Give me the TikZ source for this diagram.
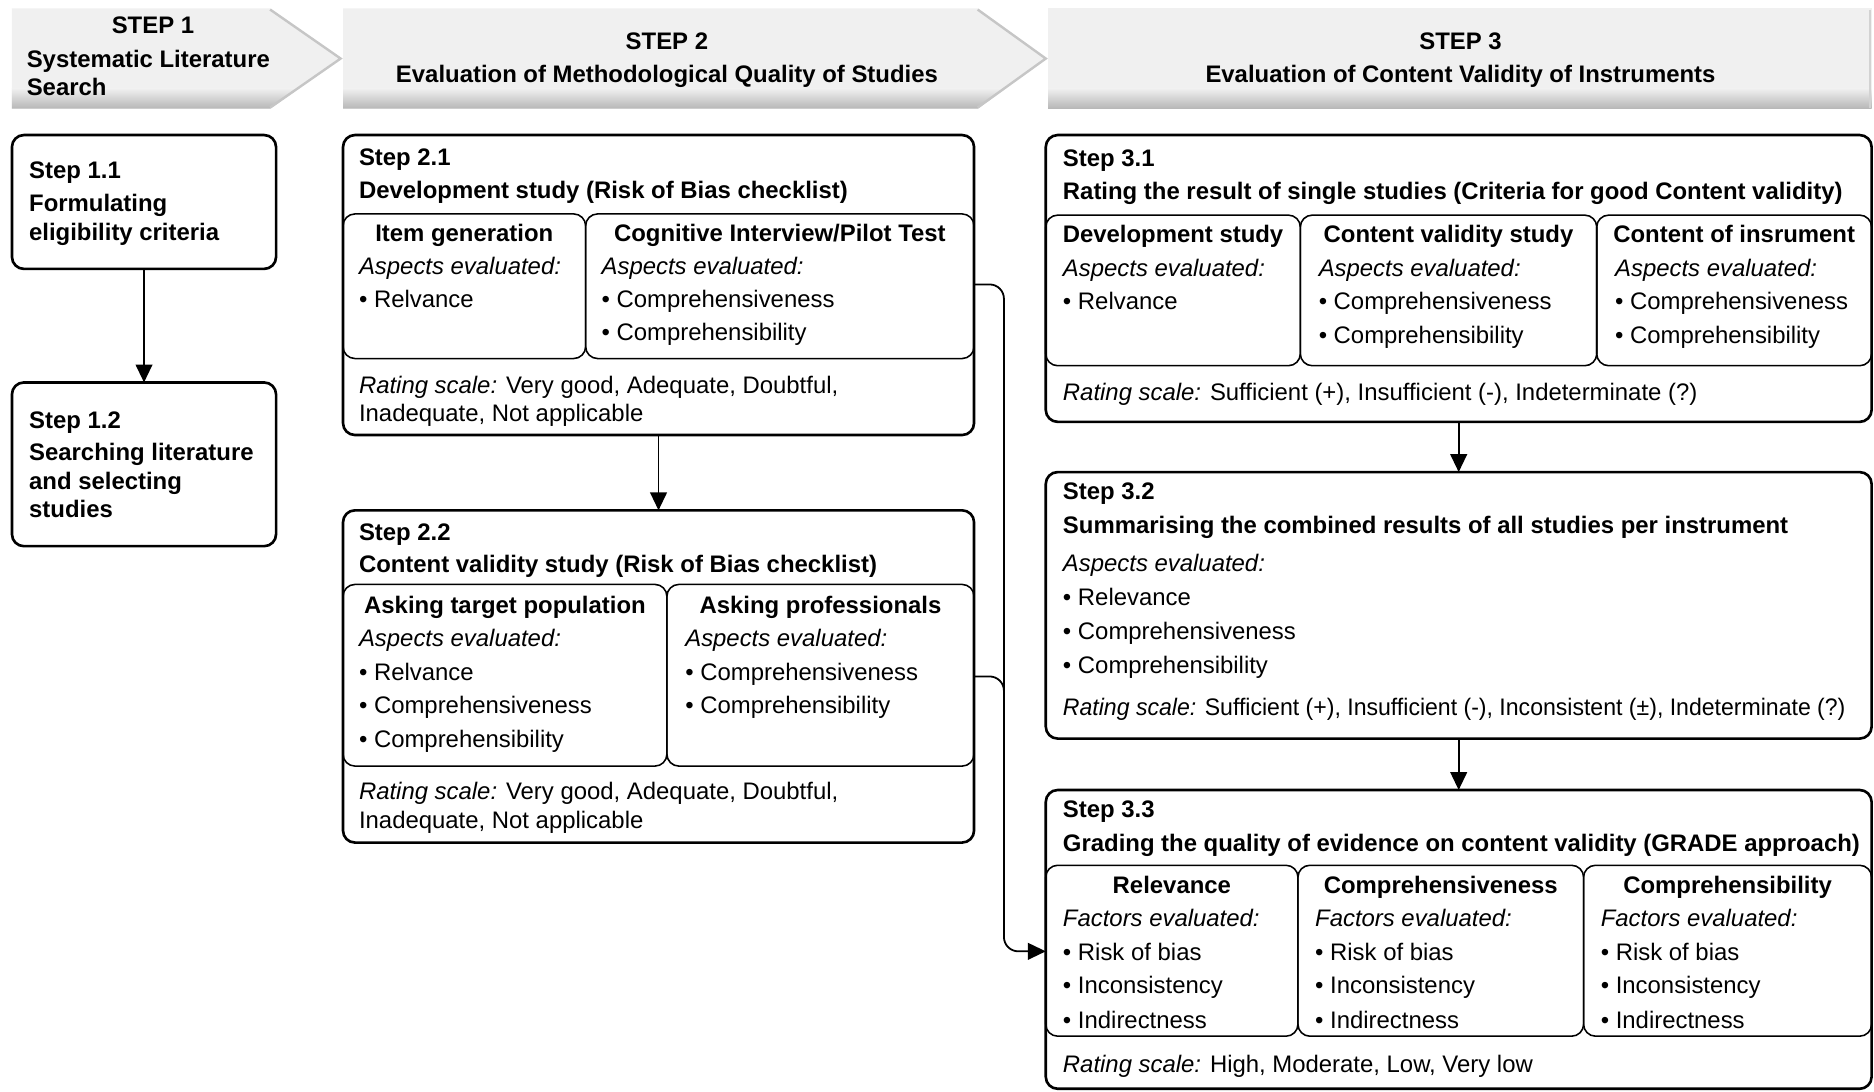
\documentclass[tikz,border=0pt]{standalone}
\usepackage{fontspec}
\setmainfont{Liberation Sans}
\usetikzlibrary{arrows.meta}
\newcommand\fs{\fontsize{10pt}{12pt}\selectfont}
\newcommand\rs{{\itshape Rating scale:}}
\newcommand\mkbox[6]{\node[#6, minimum width={(#4-#2)*0.5}, minimum height={(#5-#3)*0.5}] (#1) at (#2,#3) {};}
\begin{document}
\begin{tikzpicture}[x=0.5pt,y=-0.5pt,
  outer/.style={draw, line width=1.1pt, rounded corners=5pt, anchor=north west, inner sep=0pt, outer sep=0pt},
  inner/.style={draw, line width=0.65pt, rounded corners=5pt, anchor=north west, inner sep=0pt, outer sep=0pt},
  txt/.style={anchor=mid west, inner sep=0pt, yshift=-1pt, font=\fs},
  btxt/.style={txt, font=\fs\bfseries},
  itxt/.style={txt, font=\fs\itshape},
  ctxt/.style={anchor=mid, inner sep=0pt, yshift=-1pt, font=\fs\bfseries},
  conn/.style={line width=0.75pt},
  arr/.style={conn, -{Triangle[length=7.5pt,width=7pt]}},
  hdr/.style={fill=gray!12}
]
\fill[white] (0,0) rectangle (1568,913);
\useasboundingbox (0,0) rectangle (1568,913);

% ---------- headers ----------
\def\hA{(10,7) -- (226,7) -- (286,49) -- (226,91) -- (10,91) -- cycle}
\def\hB{(287,7) -- (818,7) -- (876,49) -- (818,91) -- (287,91) -- cycle}
\def\hC{(877,7) -- (1566,7) -- (1566,91) -- (877,91) -- cycle}
\foreach \p in {\hA,\hB,\hC}{
  \fill[hdr] \p;
  \begin{scope}
    \clip \p;
    \shade[top color=gray!12, bottom color=gray!60] (0,74) rectangle (1568,92);
  \end{scope}
}
\draw[gray!45, line width=1pt] (226,8) -- (285,49) -- (226,90);
\draw[gray!45, line width=1pt] (818,8) -- (875,49) -- (818,90);
\draw[gray!35, line width=0.8pt] (1565,8) -- (1565,90);

\node[ctxt] (h1a) at (128,21) {STEP 1};
\node[btxt] (h1b) at (22,49) {Systematic Literature};
\node[btxt] (h1c) at (22,73) {Search};
\node[ctxt] (h2a) at (558,34) {STEP 2};
\node[ctxt] (h2b) at (558,62) {Evaluation of Methodological Quality of Studies};
\node[ctxt] (h3a) at (1222,34) {STEP 3};
\node[ctxt] (h3b) at (1222,62) {Evaluation of Content Validity of Instruments};

% ---------- step 1 ----------
\mkbox{s11}{10}{113}{231}{225}{outer}
\node[btxt] (t11a) at (24,142) {Step 1.1};
\node[btxt] (t11b) at (24,170) {Formulating};
\node[btxt] (t11c) at (24,194) {eligibility criteria};
\mkbox{s12}{10}{320}{231}{457}{outer}
\node[btxt] (t12a) at (24,351) {Step 1.2};
\node[btxt] (t12b) at (24,378) {Searching literature};
\node[btxt] (t12c) at (24,402) {and selecting};
\node[btxt] (t12d) at (24,426) {studies};

% ---------- step 2.1 ----------
\mkbox{s21}{287}{113}{815}{364}{outer}
\mkbox{s21a}{287}{179}{490}{300}{inner}
\mkbox{s21b}{490}{179}{815}{300}{inner}
\node[btxt] (t21a) at (300,131) {Step 2.1};
\node[btxt] (t21b) at (300,159) {Development study (Risk of Bias checklist)};
\node[ctxt] (t21c) at (388.5,195) {Item generation};
\node[ctxt] (t21d) at (652.5,195) {Cognitive Interview/Pilot Test};
\node[itxt] (t21e) at (300,222) {Aspects evaluated:};
\node[txt]  (t21f) at (300,250) {• Relvance};
\node[itxt] (t21g) at (503,222) {Aspects evaluated:};
\node[txt]  (t21h) at (503,250) {• Comprehensiveness};
\node[txt]  (t21i) at (503,278) {• Comprehensibility};
\node[txt]  (t21j) at (300,322) {\rs{} Very good, Adequate, Doubtful,};
\node[txt]  (t21k) at (300,345) {Inadequate, Not applicable};

% ---------- step 2.2 ----------
\mkbox{s22}{287}{427}{815}{705}{outer}
\mkbox{s22a}{287}{489}{558}{641}{inner}
\mkbox{s22b}{558}{489}{815}{641}{inner}
\node[btxt] (t22a) at (300,445) {Step 2.2};
\node[btxt] (t22b) at (300,472) {Content validity study (Risk of Bias checklist)};
\node[ctxt] (t22c) at (422.5,506) {Asking target population};
\node[ctxt] (t22d) at (686.5,506) {Asking professionals};
\node[itxt] (t22e) at (300,534) {Aspects evaluated:};
\node[txt]  (t22f) at (300,562) {• Relvance};
\node[txt]  (t22g) at (300,590) {• Comprehensiveness};
\node[txt]  (t22h) at (300,618) {• Comprehensibility};
\node[itxt] (t22i) at (573,534) {Aspects evaluated:};
\node[txt]  (t22j) at (573,562) {• Comprehensiveness};
\node[txt]  (t22k) at (573,590) {• Comprehensibility};
\node[txt]  (t22l) at (300,662) {\rs{} Very good, Adequate, Doubtful,};
\node[txt]  (t22m) at (300,686) {Inadequate, Not applicable};

% ---------- step 3.1 ----------
\mkbox{s31}{875}{113}{1566}{353}{outer}
\mkbox{s31a}{875}{180}{1088}{306}{inner}
\mkbox{s31b}{1088}{180}{1336}{306}{inner}
\mkbox{s31c}{1336}{180}{1566}{306}{inner}
\node[btxt] (t31a) at (889,132) {Step 3.1};
\node[btxt] (t31b) at (889,160) {Rating the result of single studies (Criteria for good Content validity)};
\node[ctxt] (t31c) at (981.5,196) {Development study};
\node[ctxt] (t31d) at (1212,196) {Content validity study};
\node[ctxt] (t31e) at (1451,196) {Content of insrument};
\node[itxt] (t31f) at (889,224) {Aspects evaluated:};
\node[txt]  (t31g) at (889,252) {• Relvance};
\node[itxt] (t31h) at (1103,224) {Aspects evaluated:};
\node[txt]  (t31i) at (1103,252) {• Comprehensiveness};
\node[txt]  (t31j) at (1103,280) {• Comprehensibility};
\node[itxt] (t31k) at (1351,224) {Aspects evaluated:};
\node[txt]  (t31l) at (1351,252) {• Comprehensiveness};
\node[txt]  (t31m) at (1351,280) {• Comprehensibility};
\node[txt]  (t31n) at (889,328) {\rs{} Sufficient (+), Insufficient (-), Indeterminate (?)};

% ---------- step 3.2 ----------
\mkbox{s32}{875}{395}{1566}{618}{outer}
\node[btxt] (t32a) at (889,411) {Step 3.2};
\node[btxt] (t32b) at (889,439) {Summarising the combined results of all studies per instrument};
\node[itxt] (t32c) at (889,471) {Aspects evaluated:};
\node[txt]  (t32d) at (889,499) {• Relevance};
\node[txt]  (t32e) at (889,528) {• Comprehensiveness};
\node[txt]  (t32f) at (889,556) {• Comprehensibility};
\node[txt, xscale=0.965] (t32g) at (889,591) {\rs{} Sufficient (+), Insufficient (-), Inconsistent (±), Indeterminate (?)};

% ---------- step 3.3 ----------
\mkbox{s33}{875}{661}{1566}{911}{outer}
\mkbox{s33a}{875}{724}{1086}{867}{inner}
\mkbox{s33b}{1086}{724}{1325}{867}{inner}
\mkbox{s33c}{1325}{724}{1566}{867}{inner}
\node[btxt] (t33a) at (889,677) {Step 3.3};
\node[btxt] (t33b) at (889,705) {Grading the quality of evidence on content validity (GRADE approach)};
\node[ctxt] (t33c) at (980.5,740) {Relevance};
\node[ctxt] (t33d) at (1205.5,740) {Comprehensiveness};
\node[ctxt] (t33e) at (1445.5,740) {Comprehensibility};
\node[itxt] (t33f) at (889,768) {Factors evaluated:};
\node[txt]  (t33g) at (889,796) {• Risk of bias};
\node[txt]  (t33h) at (889,824) {• Inconsistency};
\node[txt]  (t33i) at (889,853) {• Indirectness};
\node[itxt] (t33j) at (1100,768) {Factors evaluated:};
\node[txt]  (t33k) at (1100,796) {• Risk of bias};
\node[txt]  (t33l) at (1100,824) {• Inconsistency};
\node[txt]  (t33m) at (1100,853) {• Indirectness};
\node[itxt] (t33n) at (1339,768) {Factors evaluated:};
\node[txt]  (t33o) at (1339,796) {• Risk of bias};
\node[txt]  (t33p) at (1339,824) {• Inconsistency};
\node[txt]  (t33q) at (1339,853) {• Indirectness};
\node[txt]  (t33r) at (889,890) {\rs{} High, Moderate, Low, Very low};

% ---------- connectors ----------
\draw[arr] (s11) -- (s12);
\draw[arr] (s21) -- (s22);
\draw[arr] (s31) -- (s32);
\draw[arr] (s32) -- (s33);
\coordinate (yA) at (0,238);
\coordinate (yB) at (0,566);
\coordinate (yC) at (0,796);
\coordinate (yD) at (0,760);
\coordinate (xb) at (840,0);
\draw[arr, rounded corners=6pt] (s21.east |- yA) -- (xb |- yA) -- (xb |- yC) -- (s33.west |- yC);
\draw[conn, rounded corners=6pt] (s22.east |- yB) -- (xb |- yB) -- (xb |- yD);
\end{tikzpicture}
\end{document}
